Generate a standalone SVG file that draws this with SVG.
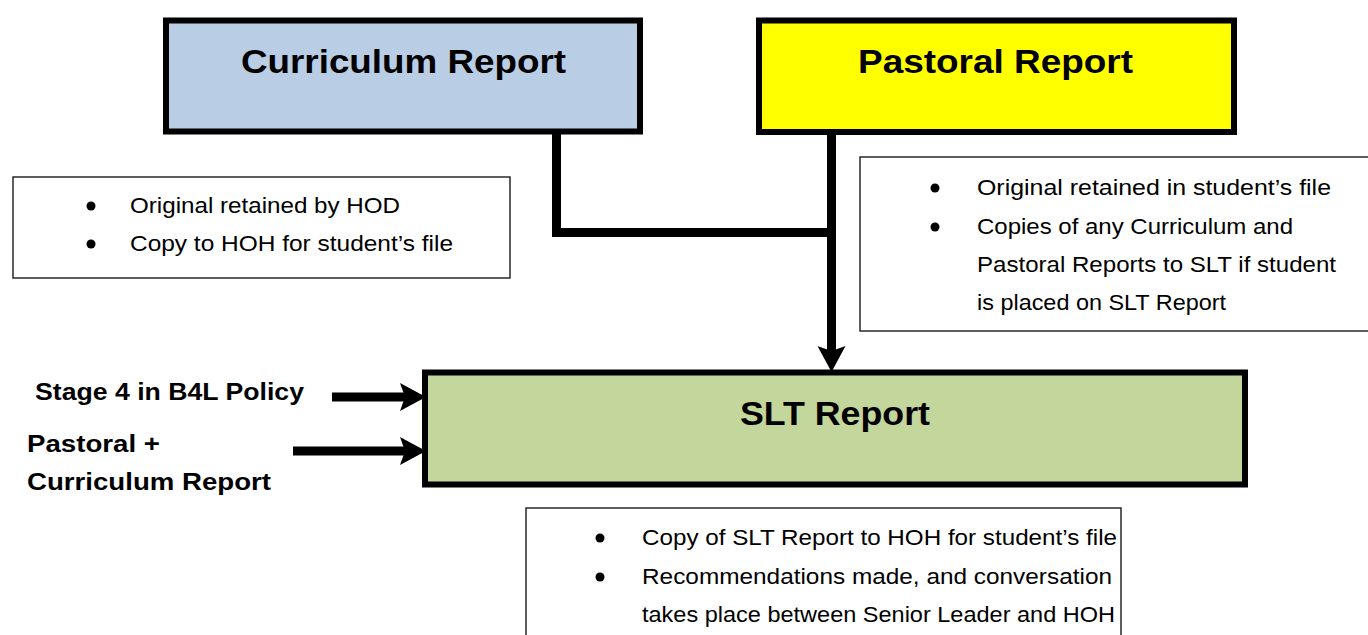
<svg xmlns="http://www.w3.org/2000/svg" width="1368" height="635" viewBox="0 0 1368 635">
  <style>
    .box { stroke: #000; stroke-width: 6; }
    .note { fill: #fff; stroke: #1a1a1a; stroke-width: 1.4; }
    .title { font-family: "Liberation Sans", Arial, sans-serif; font-weight: bold; font-size: 34px; fill: #000; text-anchor: start; }
    .side { font-family: "Liberation Sans", Arial, sans-serif; font-weight: bold; font-size: 23.5px; fill: #000; }
    .body { font-family: "Liberation Sans", Arial, sans-serif; font-size: 21.5px; fill: #000; }
    .conn { fill: none; stroke: #000; stroke-width: 9; stroke-linejoin: miter; stroke-linecap: butt; }
  </style>
  <defs>
    <marker id="arrow" viewBox="0 0 26 28" refX="12" refY="14" markerWidth="26" markerHeight="28" markerUnits="userSpaceOnUse" orient="auto">
      <path d="M0,0 L26,14 L0,28 L5,14 Z" fill="#000"/>
    </marker>
  </defs>

  <g id="curriculum-report">
    <rect class="box" x="166" y="20.5" width="474" height="111" fill="#b9cde5"/>
    <text class="title" x="241" y="73" textLength="325" lengthAdjust="spacingAndGlyphs">Curriculum Report</text>
  </g>

  <g id="pastoral-report">
    <rect class="box" x="759" y="20.5" width="475" height="111.5" fill="#ffff00"/>
    <text class="title" x="858" y="73" textLength="275" lengthAdjust="spacingAndGlyphs">Pastoral Report</text>
  </g>

  <g id="slt-report">
    <rect class="box" x="425" y="372.5" width="820" height="112" fill="#c3d69b"/>
    <text class="title" x="740" y="425" textLength="190" lengthAdjust="spacingAndGlyphs">SLT Report</text>
  </g>

  <g id="curriculum-notes">
    <rect class="note" x="13" y="177" width="497" height="101"/>
    <circle cx="91" cy="206" r="4.5" fill="#000"/>
    <circle cx="91" cy="244" r="4.5" fill="#000"/>
    <text class="body" x="130" y="213" textLength="270" lengthAdjust="spacingAndGlyphs">Original retained by HOD</text>
    <text class="body" x="130" y="251" textLength="323" lengthAdjust="spacingAndGlyphs">Copy to HOH for student’s file</text>
  </g>

  <g id="pastoral-notes">
    <rect class="note" x="860" y="157" width="520" height="174"/>
    <circle cx="935" cy="188" r="4.5" fill="#000"/>
    <circle cx="935" cy="227" r="4.5" fill="#000"/>
    <text class="body" x="977" y="195" textLength="354" lengthAdjust="spacingAndGlyphs">Original retained in student’s file</text>
    <text class="body" x="977" y="234" textLength="316" lengthAdjust="spacingAndGlyphs">Copies of any Curriculum and</text>
    <text class="body" x="977" y="272" textLength="359" lengthAdjust="spacingAndGlyphs">Pastoral Reports to SLT if student</text>
    <text class="body" x="977" y="310" textLength="249" lengthAdjust="spacingAndGlyphs">is placed on SLT Report</text>
  </g>

  <g id="slt-notes">
    <rect class="note" x="526" y="508" width="595" height="200"/>
    <circle cx="600" cy="538" r="4.5" fill="#000"/>
    <circle cx="600" cy="577" r="4.5" fill="#000"/>
    <text class="body" x="642" y="545" textLength="475" lengthAdjust="spacingAndGlyphs">Copy of SLT Report to HOH for student’s file</text>
    <text class="body" x="642" y="584" textLength="470" lengthAdjust="spacingAndGlyphs">Recommendations made, and conversation</text>
    <text class="body" x="642" y="622" textLength="473" lengthAdjust="spacingAndGlyphs">takes place between Senior Leader and HOH</text>
  </g>

  <g id="input-stage4">
    <text class="side" x="35" y="400" textLength="269" lengthAdjust="spacingAndGlyphs">Stage 4 in B4L Policy</text>
  </g>

  <g id="input-pastoral-curriculum">
    <text class="side" x="27" y="452" textLength="133" lengthAdjust="spacingAndGlyphs">Pastoral +</text>
    <text class="side" x="27" y="490" textLength="244" lengthAdjust="spacingAndGlyphs">Curriculum Report</text>
  </g>

  <g id="connectors">
    <path class="conn" d="M556.5,129 V232.5 H832"/>
    <path class="conn" d="M831.5,133 V358" marker-end="url(#arrow)"/>
    <path class="conn" d="M332,397 H412" marker-end="url(#arrow)"/>
    <path class="conn" d="M293,451 H412" marker-end="url(#arrow)"/>
  </g>
</svg>
